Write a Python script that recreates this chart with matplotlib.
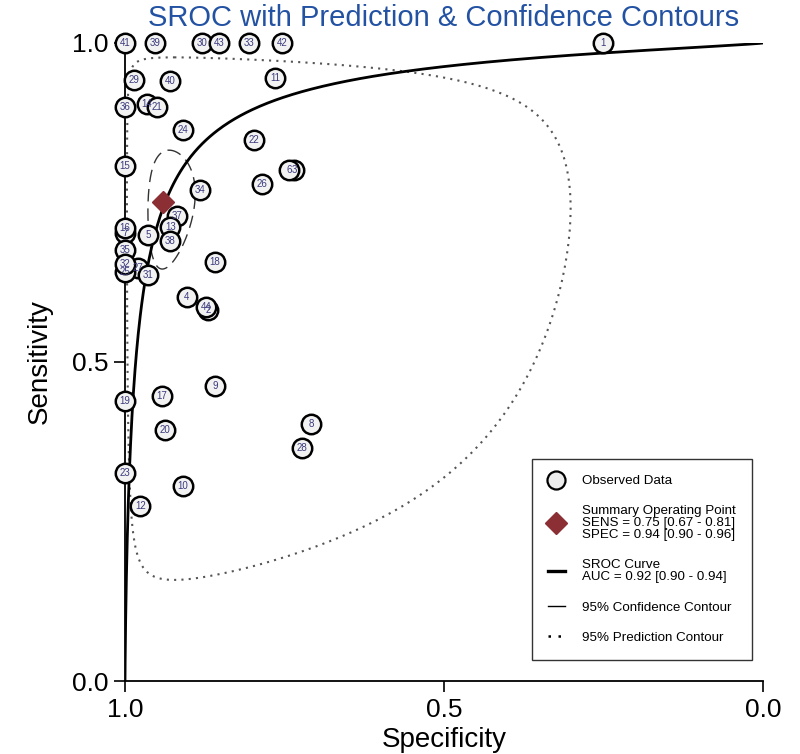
import numpy as np
import matplotlib
matplotlib.use("Agg")
from matplotlib import pyplot as plt
from matplotlib.lines import Line2D

plt.rcParams['font.family'] = ['Liberation Sans', 'DejaVu Sans']

# Observed studies (label, specificity, sensitivity)
labels = ['1', '41', '39', '30', '43', '33', '42', '29', '40', '11', '36',
          '14', '21', '24', '22', '15', '3', '6', '26', '34', '37', '13',
          '7', '16', '5', '38', '35', '27', '25', '32', '31', '18', '4',
          '2', '44', '9', '17', '19', '20', '8', '28', '23', '10', '12']
spec = [0.251, 1.0, 0.953, 0.879, 0.853, 0.806, 0.754, 0.986, 0.929, 0.765,
        1.0, 0.966, 0.950, 0.909, 0.798, 1.0, 0.735, 0.743, 0.785, 0.882,
        0.918, 0.929, 1.0, 1.0, 0.964, 0.929, 1.0, 0.980, 1.0, 1.0, 0.964,
        0.859, 0.903, 0.870, 0.873, 0.859, 0.942, 1.0, 0.937, 0.708, 0.723,
        1.0, 0.909, 0.976]
sens = [1.0, 1.0, 1.0, 1.0, 1.0, 1.0, 1.0, 0.942, 0.940, 0.945, 0.900,
        0.904, 0.900, 0.864, 0.848, 0.807, 0.801, 0.801, 0.779, 0.770,
        0.729, 0.712, 0.702, 0.710, 0.699, 0.690, 0.676, 0.647, 0.641,
        0.654, 0.636, 0.657, 0.602, 0.582, 0.586, 0.462, 0.447, 0.439,
        0.393, 0.403, 0.365, 0.326, 0.306, 0.274]

# Summary operating point
sum_sens = 0.75
sum_spec = 0.94

# SROC curve: logit(sens) = a + b * logit(1 - spec)
sroc_a = 3.26
sroc_b = 0.80

# Contours in logit space: centre (logit sens, logit fpr), half-widths, correlation
conf_centre = (1.10, -2.69)
conf_half = (0.50, 0.60)
conf_rho = 0.15
pred_centre = (1.05, -2.48)
pred_half = (2.72, 3.32)
pred_rho = 0.0

legend_labels = ['Observed Data',
                 'Summary Operating Point\nSENS = 0.75 [0.67 - 0.81]\nSPEC = 0.94 [0.90 - 0.96]',
                 'SROC Curve\nAUC = 0.92 [0.90 - 0.94]',
                 '95% Confidence Contour',
                 '95% Prediction Contour']


def expit(v):
    return 1 / (1 + np.exp(-v))


def logit(p):
    return np.log(p / (1 - p))


def contour(centre, half, rho):
    t = np.linspace(0, 2 * np.pi, 400)
    ls = centre[0] + half[0] * np.cos(t)
    lf = centre[1] + half[1] * (rho * np.cos(t) + np.sqrt(1 - rho**2) * np.sin(t))
    return 1 - expit(lf), expit(ls)


fig = plt.figure(figsize=(8, 7.54), dpi=100)
ax = fig.add_axes([0.15625, 0.0968, 0.7975, 0.8462])

# SROC curve
fpr = np.concatenate([np.logspace(-7, -1, 300), np.linspace(0.1, 1 - 1e-9, 300)])
ax.plot(1 - fpr, expit(sroc_a + sroc_b * logit(fpr)), color='black', lw=2.0, zorder=3)

# Contours
cx, cy = contour(conf_centre, conf_half, conf_rho)
ax.plot(cx, cy, color='#333333', lw=1.0, ls=(0, (9, 5)), zorder=2)
px, py = contour(pred_centre, pred_half, pred_rho)
ax.plot(px, py, color='#555555', lw=1.5, ls=(0, (1, 2.5)), zorder=2)

# Observed studies
for lab, sp, se in zip(labels, spec, sens):
    ax.plot(sp, se, marker='o', ms=14, mfc='#f2f2f2', mec='black', mew=1.8,
            ls='none', zorder=4, clip_on=False)
    ax.text(sp, se, lab, ha='center', va='center', fontsize=7,
            color='#3a3a7e', zorder=5, clip_on=False)

# Summary point
ax.plot(sum_spec, sum_sens, marker='D', ms=11, color='#8b2f35', ls='none', zorder=6)

ax.set_xlim(1, 0)
ax.set_ylim(0, 1)
ax.set_xticks([1.0, 0.5, 0.0])
ax.set_yticks([0.0, 0.5, 1.0])
ax.set_xticklabels(['1.0', '0.5', '0.0'])
ax.set_yticklabels(['0.0', '0.5', '1.0'])
ax.tick_params(labelsize=19, length=8, width=1.2, pad=4)
for s in ['top', 'right']:
    ax.spines[s].set_visible(False)
for s in ['left', 'bottom']:
    ax.spines[s].set_linewidth(1.3)
ax.set_xlabel('Specificity', fontsize=20, labelpad=4)
ax.set_ylabel('Sensitivity', fontsize=20, labelpad=14)
ax.set_title('SROC with Prediction & Confidence Contours', fontsize=21,
             color='#2352a3', pad=12)

handles = [Line2D([], [], marker='o', ms=13, mfc='#ececec', mec='black', mew=1.6, ls='none'),
           Line2D([], [], marker='D', ms=11, color='#8b2f35', ls='none'),
           Line2D([], [], color='black', lw=2.4),
           Line2D([], [], color='black', lw=1.0),
           Line2D([], [], color='black', lw=1.8, ls=(0, (1, 3)))]
leg = ax.legend(handles, legend_labels, loc='lower right',
                bbox_to_anchor=(0.983, 0.033), fontsize=9.6, frameon=True,
                fancybox=False, edgecolor='black', labelspacing=1.35,
                handlelength=1.3, handletextpad=1.3, borderpad=1.2,
                borderaxespad=0)
leg.get_frame().set_linewidth(1.0)
for t in leg.get_texts():
    t.set_linespacing(1.0)

fig.savefig('out.png', dpi=100)
